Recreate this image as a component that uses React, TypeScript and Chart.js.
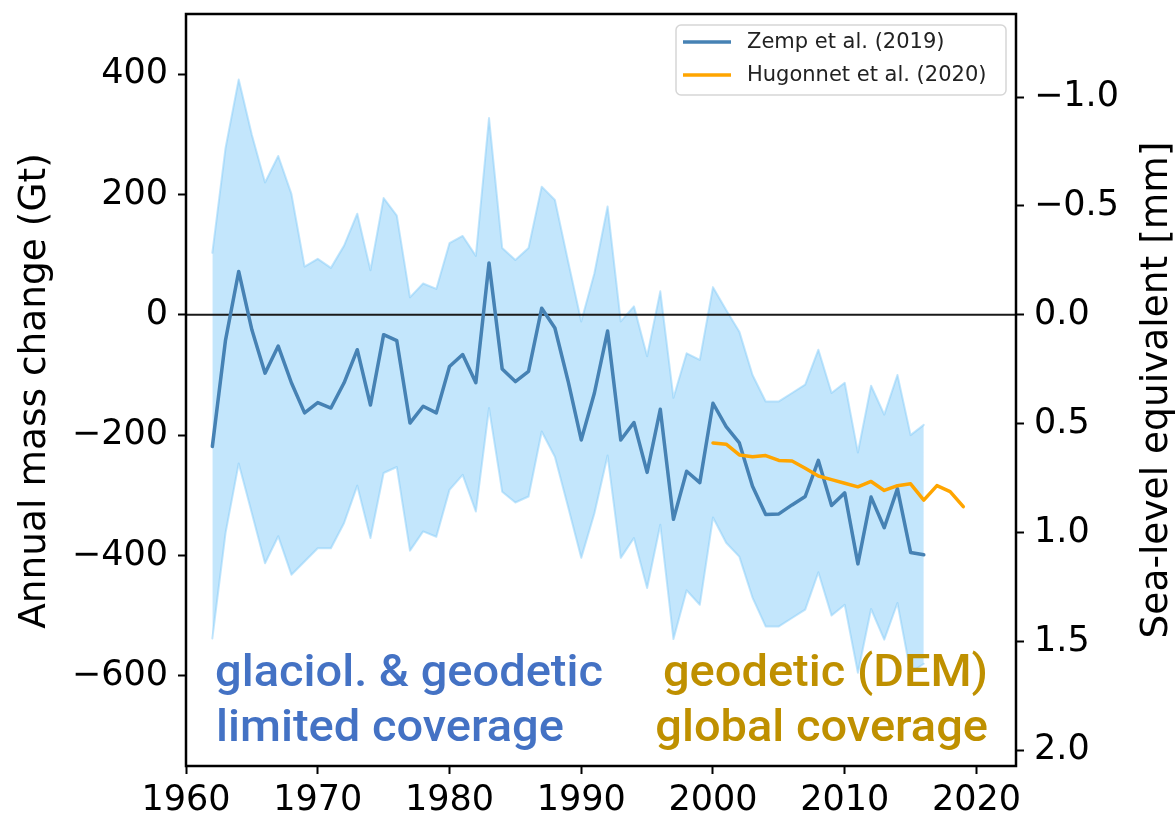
import React, { useEffect, useRef } from "react";
import { Chart, registerables } from "chart.js";

Chart.register(...registerables);

// ---------- data ----------
const zempYears = [
  1962, 1963, 1964, 1965, 1966, 1967, 1968, 1969, 1970, 1971, 1972, 1973, 1974, 1975,
  1976, 1977, 1978, 1979, 1980, 1981, 1982, 1983, 1984, 1985, 1986, 1987, 1988, 1989,
  1990, 1991, 1992, 1993, 1994, 1995, 1996, 1997, 1998, 1999, 2000, 2001, 2002, 2003,
  2004, 2005, 2006, 2007, 2008, 2009, 2010, 2011, 2012, 2013, 2014, 2015, 2016,
];
const zempMass = [
  -219, -42, 72, -25, -97, -52, -113, -163, -146, -155, -113, -58, -150, -33,
  -43, -180, -152, -163, -86, -66, -113, 86, -90, -111, -94, 11, -22, -110,
  -208, -130, -27, -208, -179, -262, -157, -340, -260, -279, -147, -186, -213, -285,
  -332, -331, -316, -302, -242, -317, -296, -414, -303, -354, -289, -395, -399,
];
const zempUpper = [
  103, 277, 391, 299, 220, 264, 201, 80, 93, 78, 115, 168, 74, 194,
  165, 29, 52, 43, 119, 131, 98, 327, 111, 91, 111, 213, 191, 89,
  -11, 69, 180, -11, 14, -69, 39, -138, -64, -75, 46, 8, -28, -100,
  -144, -144, -130, -116, -58, -130, -113, -229, -118, -166, -100, -200, -183,
];
const zempLower = [
  -538, -363, -247, -330, -413, -368, -432, -410, -388, -388, -346, -284, -371, -263,
  -253, -392, -360, -369, -291, -266, -327, -155, -294, -312, -302, -194, -236, -319,
  -404, -330, -234, -404, -371, -454, -349, -539, -458, -482, -337, -379, -402, -470,
  -518, -518, -504, -490, -428, -500, -482, -595, -489, -540, -479, -595, -580,
];
const hugYears = [
  2000, 2001, 2002, 2003, 2004, 2005, 2006, 2007, 2008, 2009,
  2010, 2011, 2012, 2013, 2014, 2015, 2016, 2017, 2018, 2019,
];
const hugMass = [
  -213, -215, -233, -236, -234, -242, -243, -255, -268, -274,
  -280, -286, -277, -292, -284, -281, -308, -284, -294, -319,
];

const xTicks = [1960, 1970, 1980, 1990, 2000, 2010, 2020];
const yTicks = [-600, -400, -200, 0, 200, 400];
const slrTicks = [-1.0, -0.5, 0.0, 0.5, 1.0, 1.5, 2.0];
const GT_PER_MM = 362;
const xRange = [1960, 2023];
const yRange = [-750, 500];

const legendLabels = ["Zemp et al. (2019)", "Hugonnet et al. (2020)"];
const leftAxisLabel = "Annual mass change (Gt)";
const rightAxisLabel = "Sea-level equivalent [mm]";
const annotLeft = ["glaciol. & geodetic", "limited coverage"];
const annotRight = ["geodetic (DEM)", "global coverage"];

// ---------- styles ----------
const ZEMP_COLOR = "#4682b4";
const HUG_COLOR = "#ffa500";
const BAND_COLOR = "rgba(135,206,250,0.5)";
const BLUE_TEXT = "#4472c4";
const GOLD_TEXT = "#bf9000";
const FONT = "'DejaVu Sans', sans-serif";

const pts = (xs: number[], ys: number[]) => xs.map((x, i) => ({ x, y: ys[i] }));
const fmtMinus = (s: string) => s.replace("-", "\u2212");

const overlayPlugin = {
  id: "overlay",
  afterDatasetDraw(chart: any, args: any) {
    if (args.index !== 2) return;
    const { ctx, chartArea } = chart;
    const y0 = chart.scales.y.getPixelForValue(0);
    ctx.save();
    ctx.strokeStyle = "#1a1a1a";
    ctx.lineWidth = 2;
    ctx.beginPath();
    ctx.moveTo(chartArea.left, y0);
    ctx.lineTo(chartArea.right, y0);
    ctx.stroke();
    ctx.restore();
  },
  afterDraw(chart: any) {
    const { ctx, chartArea } = chart;
    const { left, right, top, bottom } = chartArea;
    ctx.save();

    // annotations
    ctx.font = "500 45px Roboto";
    ctx.textBaseline = "alphabetic";
    const k = 388 / ctx.measureText(annotLeft[0]).width;
    const drawScaled = (txt: string, x: number, y: number, align: "left" | "right", color: string) => {
      ctx.save();
      ctx.fillStyle = color;
      ctx.translate(x, y);
      ctx.scale(k, 1);
      ctx.textAlign = align;
      ctx.fillText(txt, 0, 0);
      ctx.restore();
    };
    drawScaled(annotLeft[0], 215, 686, "left", BLUE_TEXT);
    drawScaled(annotLeft[1], 216, 741, "left", BLUE_TEXT);
    drawScaled(annotRight[0], 988, 686, "right", GOLD_TEXT);
    drawScaled(annotRight[1], 988, 741, "right", GOLD_TEXT);

    // legend
    const lx = 676, ly = 25, lw = 330, lh = 70, r = 5;
    ctx.beginPath();
    ctx.moveTo(lx + r, ly);
    ctx.arcTo(lx + lw, ly, lx + lw, ly + lh, r);
    ctx.arcTo(lx + lw, ly + lh, lx, ly + lh, r);
    ctx.arcTo(lx, ly + lh, lx, ly, r);
    ctx.arcTo(lx, ly, lx + lw, ly, r);
    ctx.closePath();
    ctx.fillStyle = "rgba(255,255,255,0.8)";
    ctx.fill();
    ctx.strokeStyle = "#d6d6d6";
    ctx.lineWidth = 1.5;
    ctx.stroke();
    const rows = [
      { y: 42, c: ZEMP_COLOR, t: legendLabels[0] },
      { y: 75, c: HUG_COLOR, t: legendLabels[1] },
    ];
    ctx.font = `21px ${FONT}`;
    ctx.textAlign = "left";
    ctx.textBaseline = "middle";
    rows.forEach((row) => {
      ctx.strokeStyle = row.c;
      ctx.lineWidth = 3.5;
      ctx.beginPath();
      ctx.moveTo(683, row.y);
      ctx.lineTo(731, row.y);
      ctx.stroke();
      ctx.fillStyle = "#222";
      ctx.fillText(row.t, 747, row.y + 1);
    });

    // frame
    ctx.strokeStyle = "#000";
    ctx.lineWidth = 2.5;
    ctx.strokeRect(left, top, right - left, bottom - top);

    // axis labels
    ctx.fillStyle = "#000";
    ctx.font = `37.5px ${FONT}`;
    ctx.textAlign = "center";
    ctx.textBaseline = "alphabetic";
    ctx.save();
    ctx.translate(45, 391);
    ctx.rotate(-Math.PI / 2);
    ctx.fillText(leftAxisLabel, 0, 0);
    ctx.restore();
    ctx.save();
    ctx.translate(1167, 390);
    ctx.rotate(-Math.PI / 2);
    ctx.fillText(rightAxisLabel, 0, 0);
    ctx.restore();

    ctx.restore();
  },
};

export default function App() {
  const ref = useRef<HTMLCanvasElement>(null);

  useEffect(() => {
    document.body.style.margin = "0";
    const canvas = ref.current;
    if (!canvas) return;
    const tickFont = { family: FONT, size: 35 };
    const gridCommon = {
      display: true,
      drawOnChartArea: false,
      drawTicks: true,
      tickLength: 8,
      tickColor: "#000",
      tickWidth: 2,
    };
    const lineCommon = {
      pointRadius: 0,
      tension: 0,
      borderJoinStyle: "round",
      borderCapStyle: "round",
      yAxisID: "y",
    };
    const chart = new Chart(canvas, {
      type: "line",
      data: {
        datasets: [
          {
            ...lineCommon,
            label: legendLabels[1],
            data: pts(hugYears, hugMass),
            borderColor: HUG_COLOR,
            borderWidth: 3.5,
            fill: false,
          },
          {
            ...lineCommon,
            label: legendLabels[0],
            data: pts(zempYears, zempMass),
            borderColor: ZEMP_COLOR,
            borderWidth: 3.5,
            fill: false,
          },
          {
            ...lineCommon,
            label: "lower",
            data: pts(zempYears, zempLower),
            borderColor: BAND_COLOR,
            borderWidth: 2,
            fill: false,
          },
          {
            ...lineCommon,
            label: "upper",
            data: pts(zempYears, zempUpper),
            borderColor: BAND_COLOR,
            backgroundColor: BAND_COLOR,
            borderWidth: 2,
            fill: 2,
          },
        ],
      },
      options: {
        animation: false,
        responsive: false,
        maintainAspectRatio: false,
        layout: { padding: { top: 14, left: 0, right: 0, bottom: 0 } },
        plugins: {
          legend: { display: false },
          tooltip: { enabled: false },
          filler: { propagate: false },
        },
        scales: {
          x: {
            type: "linear",
            position: "bottom",
            min: xRange[0],
            max: xRange[1],
            afterBuildTicks: (s: any) => {
              s.ticks = xTicks.map((v) => ({ value: v }));
            },
            afterFit: (s: any) => {
              s.height = 52;
              s.paddingLeft = 0;
              s.paddingRight = 0;
            },
            grid: gridCommon,
            border: { display: false },
            ticks: {
              font: tickFont,
              color: "#000",
              padding: 6,
              maxRotation: 0,
              autoSkip: false,
              callback: (v: any) => String(v),
            },
          },
          y: {
            type: "linear",
            position: "left",
            min: yRange[0],
            max: yRange[1],
            afterBuildTicks: (s: any) => {
              s.ticks = yTicks.map((v) => ({ value: v }));
            },
            afterFit: (s: any) => {
              s.width = 186;
              s.paddingTop = 0;
              s.paddingBottom = 0;
            },
            grid: gridCommon,
            border: { display: false },
            ticks: {
              font: tickFont,
              color: "#000",
              padding: 10,
              autoSkip: false,
              callback: (v: any) => fmtMinus(String(v)),
            },
          },
          y2: {
            type: "linear",
            position: "right",
            reverse: true,
            min: -yRange[1] / GT_PER_MM,
            max: -yRange[0] / GT_PER_MM,
            afterBuildTicks: (s: any) => {
              s.ticks = slrTicks.map((v) => ({ value: v }));
            },
            afterFit: (s: any) => {
              s.width = 159;
              s.paddingTop = 0;
              s.paddingBottom = 0;
            },
            grid: gridCommon,
            border: { display: false },
            ticks: {
              font: tickFont,
              color: "#000",
              padding: 10,
              autoSkip: false,
              callback: (v: any) => fmtMinus(Number(v).toFixed(1)),
            },
          },
        },
      },
      plugins: [overlayPlugin],
    } as any);
    return () => chart.destroy();
  }, []);

  return (
    <div style={{ width: 1175, height: 818, position: "relative" }}>
      <canvas ref={ref} width={1175} height={818} style={{ display: "block" }} />
    </div>
  );
}
